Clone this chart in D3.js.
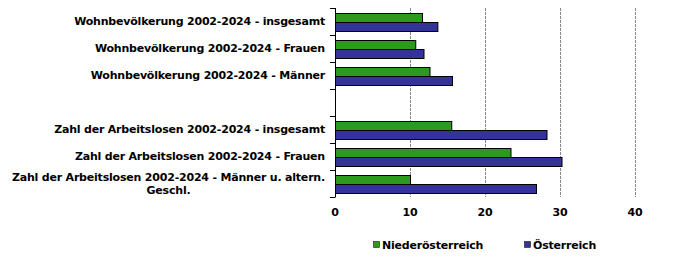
<!DOCTYPE html>
<html><head><meta charset="utf-8">
<script src="https://cdn.jsdelivr.net/npm/d3@7"></script>
<style>body{margin:0;background:#fff}svg{display:block}text{font-family:"DejaVu Sans",Verdana,sans-serif;font-weight:bold;fill:#000;letter-spacing:-0.2px}</style>
</head><body><svg id="c" width="677" height="267"></svg>
<script>
const categories = [
  ["Wohnbevölkerung 2002-2024 - insgesamt"],
  ["Wohnbevölkerung 2002-2024 - Frauen"],
  ["Wohnbevölkerung 2002-2024 - Männer"],
  [""],
  ["Zahl der Arbeitslosen 2002-2024 - insgesamt"],
  ["Zahl der Arbeitslosen 2002-2024 - Frauen"],
  ["Zahl der Arbeitslosen 2002-2024 - Männer u. altern.", "Geschl."]
];
const seriesNames = ["Niederösterreich", "Österreich"];
const niederoesterreich = [11.6, 10.7, 12.6, null, 15.5, 23.4, 10.0];
const oesterreich = [13.65, 11.8, 15.6, null, 28.2, 30.2, 26.8];
const xTicks = [0, 10, 20, 30, 40];
const colors = ["#2c9a1c", "#333399"];

const svg = d3.select("#c");
const L = 335, R = 635, T = 8, B = 197;
const x = d3.scaleLinear().domain([0, 40]).range([L, R]);
const y = d3.scaleBand().domain(d3.range(categories.length)).range([T, B]).paddingInner(0).paddingOuter(0);
const bandPad = 4.5;
const y1 = d3.scaleBand().domain([0, 1]).range([bandPad, y.bandwidth() - bandPad]);

// gridlines
svg.append("g").selectAll("line").data(xTicks.slice(1)).join("line")
  .attr("x1", d => Math.round(x(d)) + 0.5).attr("x2", d => Math.round(x(d)) + 0.5)
  .attr("y1", T).attr("y2", B)
  .attr("stroke", "#888888").attr("stroke-dasharray", "3,1").attr("stroke-width", 1);

const data = [niederoesterreich, oesterreich];
data.forEach((vals, si) => {
  svg.append("g").selectAll("rect").data(vals.map((v, i) => ({v, i})).filter(d => d.v != null)).join("rect")
    .attr("x", x(0) + 0.5)
    .attr("y", d => Math.round(y(d.i) + y1(si)) + 0.5)
    .attr("width", d => x(d.v) - x(0))
    .attr("height", Math.round(y1.bandwidth()))
    .attr("fill", colors[si]).attr("stroke", "#000").attr("stroke-width", 1);
});

// y axis
const ya = svg.append("g");
ya.append("line").attr("x1", L + 0.5).attr("x2", L + 0.5).attr("y1", T).attr("y2", B).attr("stroke", "#000");
ya.selectAll("line.t").data(d3.range(categories.length + 1)).join("line").attr("class", "t")
  .attr("x1", L - 5).attr("x2", L + 0.5)
  .attr("y1", d => Math.round(T + d * y.bandwidth()) + 0.5).attr("y2", d => Math.round(T + d * y.bandwidth()) + 0.5)
  .attr("stroke", "#000");

categories.forEach((lines, i) => {
  if (!lines[0]) return;
  const cy = y(i) + y.bandwidth() / 2;
  const g = svg.append("g");
  if (lines.length === 1) {
    g.append("text").attr("x", 325).attr("y", cy).attr("dy", "0.35em")
      .attr("text-anchor", "end").attr("font-size", 11).text(lines[0]);
  } else {
    const t = g.append("text").attr("font-size", 11).attr("text-anchor", "middle");
    t.selectAll("tspan").data(lines).join("tspan").attr("x", 0)
      .attr("y", (d, k) => cy + (k - (lines.length - 1) / 2) * 13).attr("dy", "0.35em").text(d => d);
    const w = t.node().getBBox().width;
    t.selectAll("tspan").attr("x", 325 - w / 2);
  }
});

// x axis labels
svg.append("g").selectAll("text").data(xTicks).join("text")
  .attr("x", d => x(d)).attr("y", 212).attr("dy", "0.35em")
  .attr("text-anchor", "middle").attr("font-size", 11).text(d => d);

// legend
const leg = svg.append("g");
const legX = [373, 524];
seriesNames.forEach((n, i) => {
  leg.append("rect").attr("x", legX[i] + 0.5).attr("y", 241.5).attr("width", 6).attr("height", 6)
    .attr("fill", colors[i]).attr("stroke", "#000").attr("stroke-width", 0.5);
  leg.append("text").attr("x", legX[i] + 9).attr("y", 245).attr("dy", "0.35em")
    .attr("font-size", 11).text(n);
});
</script></body></html>
